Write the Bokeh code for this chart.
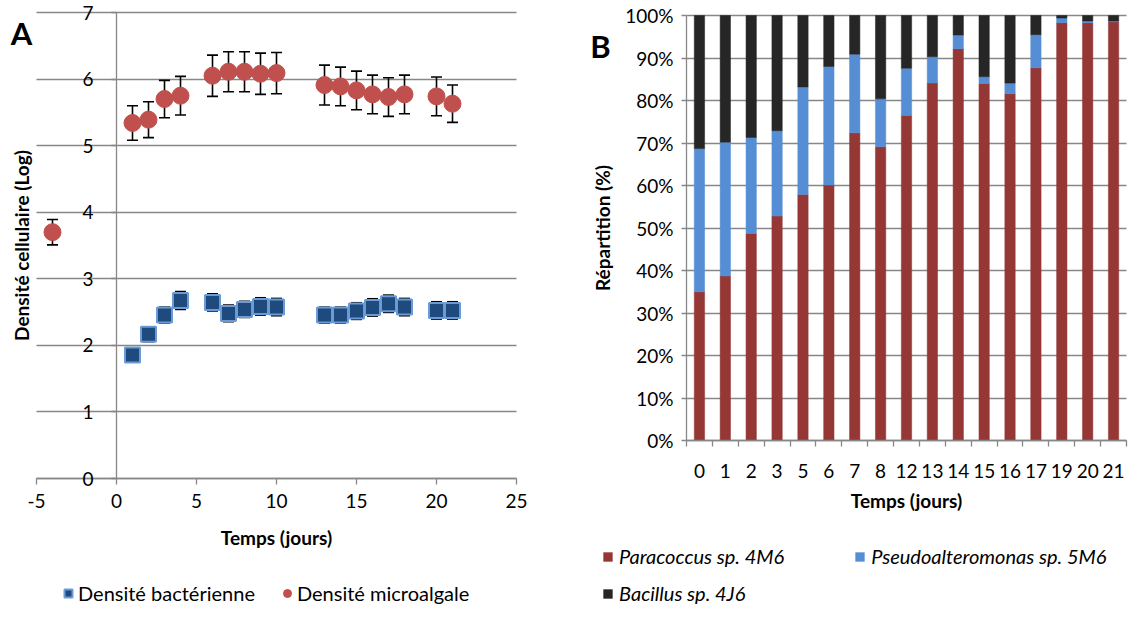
from bokeh.plotting import figure
from bokeh.models import (Range1d, LinearAxis, FixedTicker, Whisker, TeeHead, Grid,
                          ColumnDataSource, Legend, LegendItem, Label, PrintfTickFormatter,
                          CustomJSTickFormatter)
from bokeh.layouts import row
from bokeh.embed import file_html
from bokeh.resources import INLINE

FONT = "Lato"
GRID = "#878787"
TICK_FS = "19px"
TITLE_FS = "19px"
LEGEND_FS = "20px"

# ---------------- Panel A data ----------------
days_alg = [-4, 1, 2, 3, 4, 6, 7, 8, 9, 10, 13, 14, 15, 16, 17, 18, 20, 21]
alg = [3.70, 5.34, 5.39, 5.70, 5.75, 6.05, 6.11, 6.11, 6.08, 6.09, 5.91, 5.89, 5.83, 5.77, 5.73, 5.77, 5.74, 5.63]
alg_err = [0.19, 0.26, 0.27, 0.28, 0.29, 0.31, 0.30, 0.30, 0.31, 0.31, 0.30, 0.29, 0.29, 0.29, 0.29, 0.29, 0.29, 0.28]

days_bac = [1, 2, 3, 4, 6, 7, 8, 9, 10, 13, 14, 15, 16, 17, 18, 20, 21]
bac = [1.855, 2.165, 2.455, 2.675, 2.645, 2.48, 2.54, 2.585, 2.575, 2.455, 2.455, 2.515, 2.57, 2.625, 2.575, 2.525, 2.525]
bac_err = [0.05, 0.11, 0.12, 0.135, 0.13, 0.125, 0.12, 0.13, 0.13, 0.12, 0.12, 0.125, 0.13, 0.13, 0.13, 0.13, 0.13]

a_xlim = (-5, 25)
a_ylim = (0, 7)
a_yticks = [0, 1, 2, 3, 4, 5, 6, 7]
a_xticks = [-5, 0, 5, 10, 15, 20, 25]

# ---------------- Panel B data ----------------
days_b = ["0", "1", "2", "3", "5", "6", "7", "8", "12", "13", "14", "15", "16", "17", "19", "20", "21"]
paracoccus = [35.0, 38.7, 48.7, 52.8, 57.9, 60.1, 72.4, 69.1, 76.5, 84.1, 92.2, 84.0, 81.6, 87.7, 98.3, 98.3, 98.5]
pseudoalteromonas = [33.7, 31.5, 22.6, 20.1, 25.3, 27.9, 18.5, 11.3, 11.1, 6.2, 3.2, 1.6, 2.5, 7.8, 1.1, 0.4, 0.2]
bacillus = [31.3, 29.8, 28.7, 27.1, 16.8, 12.0, 9.1, 19.6, 12.4, 9.7, 4.6, 14.4, 15.9, 4.5, 0.6, 1.3, 1.3]
b_yticks = [0, 10, 20, 30, 40, 50, 60, 70, 80, 90, 100]

H = 605


def frame_range(lo, hi, px_lo, px_hi, size, flip=False):
    """Range whose frame fills the whole figure, with lo/hi at given pixel positions."""
    if flip:  # vertical: pixel measured from top, lo at px_lo (bottom)
        scale = (hi - lo) / (px_lo - px_hi)
        return Range1d(lo - (size - px_lo) * scale, hi + px_hi * scale)
    scale = (hi - lo) / (px_hi - px_lo)
    return Range1d(lo - px_lo * scale, hi + (size - px_hi) * scale)


def hgrid(p, ticks, cross):
    try:
        g = Grid(dimension=1, ticker=FixedTicker(ticks=ticks), cross_bounds=cross,
                 grid_line_color=GRID, grid_line_width=1.3)
        p.add_layout(g)
    except AttributeError:
        p.segment(x0=cross[0], x1=cross[1], y0=ticks, y1=ticks, line_color=GRID, line_width=1.3)


def style_axis(ax):
    ax.axis_line_color = GRID
    ax.axis_line_width = 1.3
    ax.major_tick_line_color = GRID
    ax.major_tick_line_width = 1.3
    ax.minor_tick_line_color = None
    ax.major_tick_in = 0
    ax.major_label_text_font = FONT
    ax.major_label_text_font_size = TICK_FS
    ax.major_label_text_color = "black"
    ax.axis_label_text_font = FONT
    ax.axis_label_text_font_style = "bold"
    ax.axis_label_text_font_size = TITLE_FS
    ax.axis_label_text_color = "black"


# ================= Panel A =================
W1 = 560
p1 = figure(width=W1, height=H,
            x_range=frame_range(*a_xlim, 36, 516, W1),
            y_range=frame_range(*a_ylim, 478, 12, H, flip=True),
            output_backend="svg", toolbar_location=None,
            x_axis_location=None, y_axis_location=None, min_border=0)
p1.outline_line_color = None
p1.xgrid.visible = False
p1.ygrid.visible = False
hgrid(p1, a_yticks, a_xlim)

ya = LinearAxis(fixed_location=0, bounds=a_ylim, ticker=FixedTicker(ticks=a_yticks),
                axis_label="Densité cellulaire (Log)")
style_axis(ya)
ya.major_tick_out = 5
ya.major_label_standoff = 18
ya.axis_label_standoff = 46
p1.add_layout(ya, "left")

xa = LinearAxis(fixed_location=0, bounds=a_xlim, ticker=FixedTicker(ticks=a_xticks),
                formatter=PrintfTickFormatter(format="%d"), axis_label="Temps (jours)")
style_axis(xa)
xa.major_tick_out = 6
xa.major_label_standoff = 9
xa.axis_label_standoff = 15
p1.add_layout(xa, "below")

src_alg = ColumnDataSource(dict(x=days_alg, y=alg,
                                upper=[v + e for v, e in zip(alg, alg_err)],
                                lower=[v - e for v, e in zip(alg, alg_err)]))
src_bac = ColumnDataSource(dict(x=days_bac, y=bac,
                                upper=[v + e for v, e in zip(bac, bac_err)],
                                lower=[v - e for v, e in zip(bac, bac_err)]))

for src in (src_bac, src_alg):
    w = Whisker(base="x", upper="upper", lower="lower", source=src,
                line_color="black", line_width=1.6,
                upper_head=TeeHead(size=11, line_color="black", line_width=1.6),
                lower_head=TeeHead(size=11, line_color="black", line_width=1.6))
    p1.add_layout(w)

r_bac = p1.scatter("x", "y", source=src_bac, marker="square", size=15,
                   fill_color="#1F4A7E", line_color="#6B9BD6", line_width=2)
r_alg = p1.scatter("x", "y", source=src_alg, marker="circle", size=17,
                   fill_color="#C0504D", line_color="#C0504D", line_width=1)

leg1 = Legend(items=[LegendItem(label="Densité bactérienne", renderers=[r_bac]),
                     LegendItem(label="Densité microalgale", renderers=[r_alg])],
              orientation="horizontal", location=(58, 0),
              glyph_width=20, glyph_height=20, label_height=20, label_standoff=0,
              spacing=22, padding=0, margin=0,
              border_line_color=None, background_fill_alpha=0,
              label_text_font=FONT, label_text_font_size=LEGEND_FS, label_text_color="black")
p1.add_layout(leg1, "center")

p1.add_layout(Label(x=21, y=H - 32, x_units="screen", y_units="screen", text="A",
                    text_font=FONT, text_font_style="bold", text_font_size="31px",
                    text_align="center", text_baseline="middle", text_color="black"))

# ================= Panel B =================
n_b = len(days_b)
xpos = [i + 0.5 for i in range(n_b)]
edges = list(range(n_b + 1))
src_b = ColumnDataSource(dict(x=xpos, para=paracoccus, pseudo=pseudoalteromonas, baci=bacillus))

W2 = 568
p2 = figure(width=W2, height=H,
            x_range=frame_range(0, n_b, 126, 566, W2),
            y_range=frame_range(0, 100, 440, 15, H, flip=True),
            output_backend="svg", toolbar_location=None,
            x_axis_location=None, y_axis_location=None, min_border=0)
p2.outline_line_color = None
p2.xgrid.visible = False
p2.ygrid.visible = False
hgrid(p2, b_yticks, (0, n_b))

colors = ["#953735", "#558ED5", "#262626"]
rs = p2.vbar_stack(["para", "pseudo", "baci"], x="x", width=0.4, source=src_b,
                   fill_color=colors, line_color=colors, line_width=0.5)

yb = LinearAxis(fixed_location=0, bounds=(0, 100), ticker=FixedTicker(ticks=b_yticks),
                formatter=PrintfTickFormatter(format="%d%%"), axis_label="Répartition (%)")
style_axis(yb)
yb.major_tick_out = 5
yb.major_label_standoff = 8
yb.axis_label_standoff = 8
p2.add_layout(yb, "left")

xb = LinearAxis(fixed_location=0, bounds=(0, n_b),
                ticker=FixedTicker(ticks=xpos, minor_ticks=edges),
                formatter=CustomJSTickFormatter(args=dict(labels=days_b),
                                                code="return labels[Math.floor(tick)];"),
                axis_label="Temps (jours)")
style_axis(xb)
xb.major_tick_out = 0
xb.major_tick_line_color = None
xb.minor_tick_line_color = GRID
xb.minor_tick_line_width = 1.3
xb.minor_tick_out = 6
xb.minor_tick_in = 0
xb.major_label_standoff = 17
xb.axis_label_standoff = 8
p2.add_layout(xb, "below")

common = dict(orientation="horizontal", glyph_width=11, glyph_height=11, label_height=20,
              label_standoff=6, padding=0, margin=0, border_line_color=None,
              background_fill_alpha=0, label_text_font=FONT, label_text_font_size=LEGEND_FS,
              label_text_font_style="italic", label_text_color="black")
leg2 = Legend(items=[LegendItem(label="Paracoccus sp. 4M6", renderers=[rs[0]]),
                     LegendItem(label="Pseudoalteromonas sp. 5M6", renderers=[rs[1]])],
              location=(42, 37), spacing=70, **common)
leg3 = Legend(items=[LegendItem(label="Bacillus sp. 4J6", renderers=[rs[2]])],
              location=(42, 0), spacing=10, **common)
p2.add_layout(leg2, "center")
p2.add_layout(leg3, "center")

p2.add_layout(Label(x=40, y=H - 45, x_units="screen", y_units="screen", text="B",
                    text_font=FONT, text_font_style="bold", text_font_size="31px",
                    text_align="center", text_baseline="middle", text_color="black"))

layout = row(p1, p2)
open("out.html", "w").write(file_html(layout, INLINE))
